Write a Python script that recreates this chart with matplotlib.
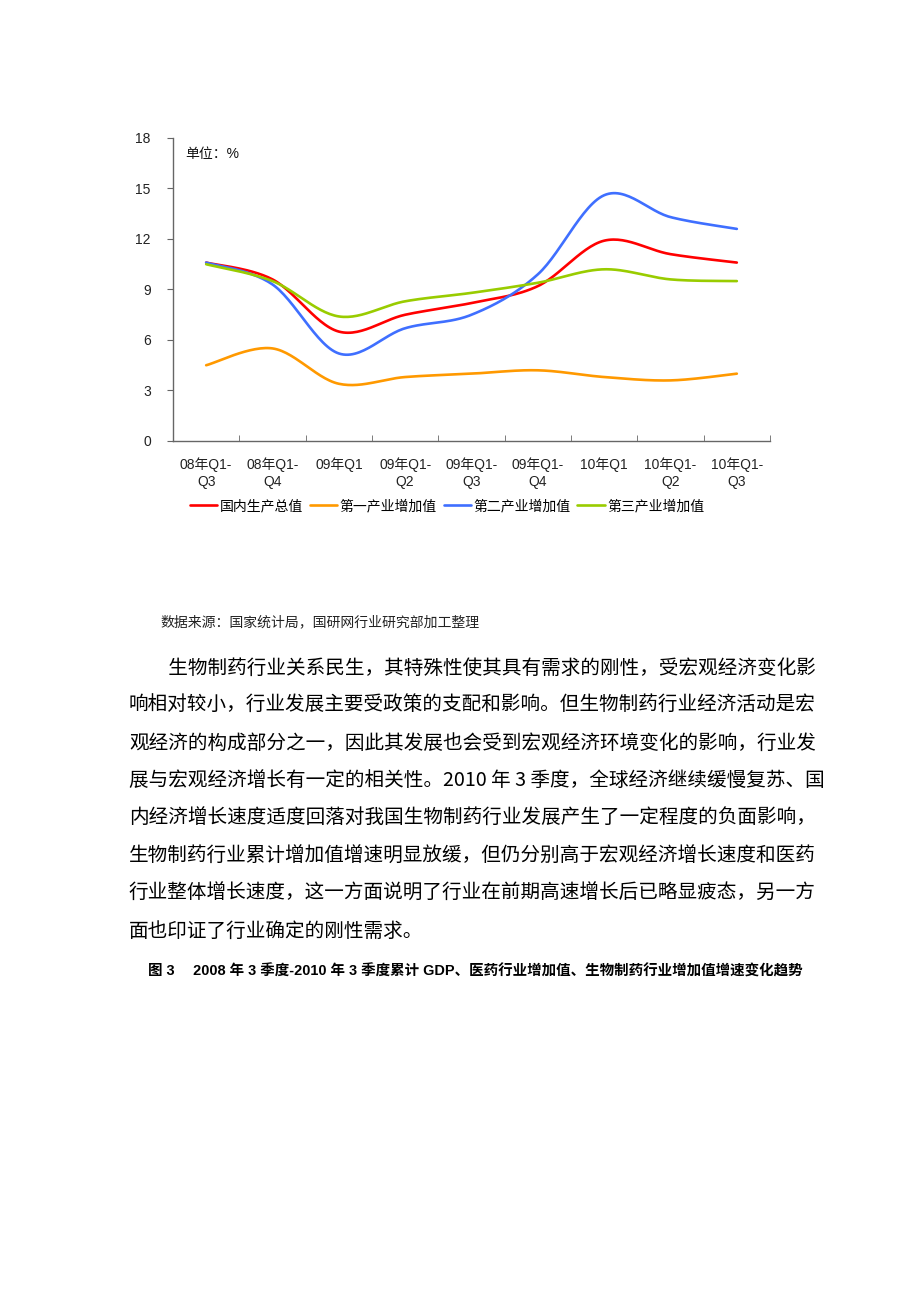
import numpy as np
import matplotlib
matplotlib.use("Agg")
import matplotlib.pyplot as plt

plt.rcParams['font.family'] = ['Liberation Sans', 'Noto Sans CJK SC', 'DejaVu Sans']

# categories (cumulative quarters)
categories = ["08年Q1-\nQ3", "08年Q1-\nQ4", "09年Q1", "09年Q1-\nQ2", "09年Q1-\nQ3",
              "09年Q1-\nQ4", "10年Q1", "10年Q1-\nQ2", "10年Q1-\nQ3"]

# growth rates, %
gdp = [10.6, 9.6, 6.5, 7.5, 8.2, 9.2, 11.9, 11.1, 10.6]
primary = [4.5, 5.5, 3.4, 3.8, 4.0, 4.2, 3.8, 3.6, 4.0]
secondary = [10.6, 9.3, 5.2, 6.7, 7.5, 9.9, 14.6, 13.3, 12.6]
tertiary = [10.5, 9.5, 7.4, 8.3, 8.8, 9.4, 10.2, 9.6, 9.5]

series_names = ["国内生产总值", "第一产业增加值", "第二产业增加值", "第三产业增加值"]
series_colors = ["#ff0000", "#ff9900", "#3f6fff", "#99cc00"]

y_ticks = [0, 3, 6, 9, 12, 15, 18]

source_text = "数据来源：国家统计局，国研网行业研究部加工整理"
paragraph = [
    "　　生物制药行业关系民生，其特殊性使其具有需求的刚性，受宏观经济变化影",
    "响相对较小，行业发展主要受政策的支配和影响。但生物制药行业经济活动是宏",
    "观经济的构成部分之一，因此其发展也会受到宏观经济环境变化的影响，行业发",
    "展与宏观经济增长有一定的相关性。2010 年 3 季度，全球经济继续缓慢复苏、国",
    "内经济增长速度适度回落对我国生物制药行业发展产生了一定程度的负面影响，",
    "生物制药行业累计增加值增速明显放缓，但仍分别高于宏观经济增长速度和医药",
    "行业整体增长速度，这一方面说明了行业在前期高速增长后已略显疲态，另一方",
    "面也印证了行业确定的刚性需求。",
]
caption = "图 3　 2008 年 3 季度-2010 年 3 季度累计 GDP、医药行业增加值、生物制药行业增加值增速变化趋势"


def smooth(xs, ys, n=30):
    # excel-like smoothed line: bezier segments with catmull-rom control points
    p = np.column_stack([xs, ys]).astype(float)
    ext = np.vstack([p[0], p, p[-1]])
    t = np.linspace(0, 1, n)[:, None]
    out = []
    for i in range(len(p) - 1):
        p0, p1 = ext[i + 1], ext[i + 2]
        c1 = p0 + (ext[i + 2] - ext[i]) / 6
        c2 = p1 - (ext[i + 3] - ext[i + 1]) / 6
        seg = ((1 - t) ** 3) * p0 + 3 * ((1 - t) ** 2) * t * c1 + 3 * (1 - t) * t ** 2 * c2 + t ** 3 * p1
        out.append(seg if i == 0 else seg[1:])
    out = np.vstack(out)
    return out[:, 0], out[:, 1]


fig = plt.figure(figsize=(9.2, 13.02), dpi=100)
ax = fig.add_axes([173 / 920, 1 - 441 / 1302, (770 - 173) / 920, (441 - 138) / 1302])

x = np.arange(len(categories))
for vals, name, col in zip([gdp, primary, secondary, tertiary], series_names, series_colors):
    sx, sy = smooth(x, vals)
    ax.plot(sx, sy, color=col, lw=1.9, label=name, solid_capstyle='round')

ax.set_xlim(-0.5, len(categories) - 0.5)
ax.set_ylim(0, 18)
ax.set_yticks(y_ticks)
ax.set_xticks(x)
ax.set_xticklabels(categories, fontsize=10, color='#222222', linespacing=1.25)
ax.set_xticks(np.arange(0.5, len(categories), 1), minor=True)
ax.tick_params(axis='x', which='major', length=0, pad=12)
ax.tick_params(axis='x', which='minor', direction='in', length=4, color='#666666')
ax.tick_params(axis='y', direction='out', length=4, color='#666666', labelsize=10,
               labelcolor='#222222', pad=12)
for s in ['top', 'right']:
    ax.spines[s].set_visible(False)
for s in ['left', 'bottom']:
    ax.spines[s].set_color('#666666')
    ax.spines[s].set_linewidth(1.0)

ax.text(0.02, 0.97, "单位：%", transform=ax.transAxes, fontsize=10, color='#111111',
        va='top', ha='left')

fig.legend(loc='center', bbox_to_anchor=(447 / 920, 1 - 506 / 1302), ncol=4, frameon=False,
           fontsize=10, handlelength=1.95, handletextpad=0.2, columnspacing=0.5)

fig.text(160 / 920, 1 - 622 / 1302, source_text, fontsize=10, color='#222222',
         ha='left', va='center')

for i, line in enumerate(paragraph):
    fig.text(129 / 920, 1 - (668 + i * 37.6) / 1302, line, fontsize=14.1, color='#000000',
             ha='left', va='center', family=['Noto Sans CJK SC', 'DejaVu Sans'])

fig.text(148 / 920, 1 - 971 / 1302, caption, fontsize=10.45, fontweight='bold', color='#000000',
         ha='left', va='center')

fig.savefig("out.png", dpi=100, facecolor='white')
